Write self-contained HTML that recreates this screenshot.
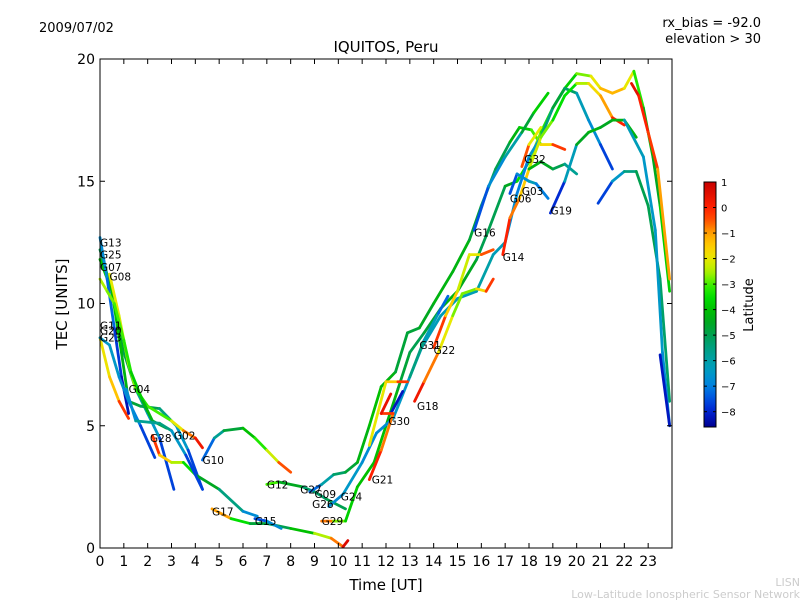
<!DOCTYPE html>
<html><head><meta charset="utf-8"><style>
body{margin:0;background:#fff;font-family:"Liberation Sans","DejaVu Sans",sans-serif}
svg{display:block}
text{font-family:"DejaVu Sans","Liberation Sans",sans-serif}
</style></head><body>
<svg id="c" width="800" height="600" viewBox="0 0 800 600">
<rect width="800" height="600" fill="#fff"/>
<text x="39" y="32" font-size="13">2009/07/02</text>
<text x="761" y="27" font-size="13" text-anchor="end">rx_bias = -92.0</text>
<text x="761" y="43" font-size="13" text-anchor="end">elevation &gt; 30</text>
<text x="386" y="52" font-size="15" text-anchor="middle">IQUITOS, Peru</text>
<text x="386" y="590" font-size="15" text-anchor="middle">Time [UT]</text>
<text transform="translate(67,304) rotate(-90)" font-size="15" text-anchor="middle">TEC [UNITS]</text>
<text x="800" y="586" font-size="11" fill="#ccc" text-anchor="end">LISN</text>
<text x="800" y="598" font-size="11" fill="#ccc" text-anchor="end">Low-Latitude Ionospheric Sensor Network</text>
<g id="marks"></g>
<g id="axes"></g>
</svg>
<script>
const xTicks=[0,1,2,3,4,5,6,7,8,9,10,11,12,13,14,15,16,17,18,19,20,21,22,23];
const yTicks=[0,5,10,15,20];
const cbTicks=[1,0,-1,-2,-3,-4,-5,-6,-7,-8];
const labelNames=["G13","G25","G07","G08","G11","G20","G23","G04","G28","G02","G10","G17","G15","G12","G27","G09","G26","G24","G29","G21","G30","G18","G31","G22","G16","G14","G06","G03","G32","G19"];
const labelT=[0,0,0,0.4,0,0,0,1.2,2.1,3.1,4.3,4.7,6.5,7,8.4,9.0,8.9,10.1,9.3,11.4,12.1,13.3,13.4,14.0,15.7,16.9,17.2,17.7,17.8,18.9];
const labelV=[12.5,12.0,11.5,11.1,9.1,8.9,8.6,6.5,4.5,4.6,3.6,1.5,1.1,2.6,2.4,2.2,1.8,2.1,1.1,2.8,5.2,5.8,8.3,8.1,12.9,11.9,14.3,14.6,15.9,13.8];
const s1=[[0,12.2,-5],[0.5,10.5,-5],[1,8,-4.5],[1.5,6.5,-5.5],[2,5.5,-6],[2.5,4.5,-7],[3.1,2.4,-8.3]];
const s2=[[0,11.8,-4],[0.5,10.5,-4],[0.9,8,-4],[1.2,6,-4.5],[1.7,5.8,-5],[2.5,5.7,-5],[3.2,5,-6],[3.7,4,-7],[4.3,2.4,-8.3]];
const s3=[[0.4,11.2,-2],[0.8,9.5,-2],[1.2,7.5,-2.3],[1.5,6.5,-3],[2,5.8,-3.5],[3,5.2,-2.5],[3.5,4.8,-1.5],[4,4.5,0],[4.3,4.1,0.5]];
const s4=[[0,8.6,-2],[0.4,7,-1.8],[0.8,6,-1],[1.2,5.3,0.5]];
const s5=[[0,12.7,-6.5],[0.3,11,-7],[0.6,9,-7.5],[0.9,7,-8],[1.2,5.5,-8.5]];
const s6=[[0,8.6,-6.5],[0.4,8.3,-6.5],[0.8,7,-6.5],[1.2,6,-7],[1.7,5,-7],[2.3,3.7,-8.3]];
const s7=[[0,11,-2.5],[0.3,10.5,-2.5],[0.6,10,-3],[1,8.5,-3],[1.3,7.2,-3.5],[1.8,6,-4],[2.2,5.2,-4.5],[2.8,4.9,-5]];
const s8=[[2.2,4.6,0.5],[2.5,3.8,-1],[3,3.5,-2],[3.5,3.5,-3],[4,3.0,-4],[5,2.4,-5],[6,1.5,-6],[6.6,1.3,-7.5]];
const s9=[[1.1,6.5,-7],[1.5,5.2,-6.5],[2.5,5.1,-5],[3,4.8,-6],[3.6,3.8,-7],[4.3,2.4,-8.3]];
const s10=[[4.3,3.6,-8],[4.8,4.5,-6.5],[5.2,4.8,-5],[6,4.9,-4.5],[6.5,4.5,-3.5],[7,4,-3],[7.5,3.5,-1.5],[8,3.1,0.5]];
const s11=[[4.7,1.6,0.5],[5.5,1.2,-2.5],[6.3,1.0,-4.5],[7,1.0,-5],[8,0.8,-5],[9,0.6,-3],[9.7,0.4,-2],[10.2,0.05,0.5],[10.4,0.3,0.8]];
const s12=[[6.5,1.2,-8],[7,1.1,-7],[7.6,0.8,-6.5]];
const s13=[[7,2.6,-2],[7.5,2.7,-4],[8.5,2.5,-5],[9,2.3,-5.5],[9.5,2.0,-5],[10.3,1.6,-5]];
const s14=[[8.8,2.3,-8],[9.3,2.6,-6.5],[9.8,3.0,-5.5],[10.3,3.1,-5],[10.8,3.5,-4.5],[11.3,5,-4],[11.8,6.6,-4],[12.4,7.2,-4.5],[12.9,8.8,-5],[13.4,9,-4.5],[14,10,-4.5],[14.8,11.3,-4],[15.5,12.6,-4.5],[16,14,-5],[16.6,15.5,-5.5],[17.2,16.6,-4.5],[17.6,17.2,-4],[18.1,17.1,-3.5],[18.5,16.5,-2.5],[19,16.5,-1],[19.5,16.3,0.5]];
const s15=[[9.3,1.1,0.5],[9.8,1.1,-2],[10.3,1.1,-3.5],[10.8,2.5,-4],[11.5,3.5,-4],[12,5,-4],[12.5,6.5,-4.5],[13,8,-5],[13.6,8.8,-5],[14.3,9.8,-4.5],[15,10.5,-4],[15.8,11.8,-5],[16.3,13,-5],[17,14.8,-5],[17.5,15,-4],[18,15.8,-3],[18.5,17,-2.5],[19,18,-4],[19.5,18.8,-4.5],[20,19.4,-3],[20.6,19.3,-2.5],[21,18.8,-1.5],[21.5,18.6,-1],[22,18.8,-1.5],[22.4,19.5,-2.5],[22.8,18,-4],[23.2,16,-4.5],[23.5,14,-4.5],[23.9,10.5,-3]];
const s16=[[9.6,1.7,-7],[10.2,2.2,-6.5],[11,3.5,-6.5],[11.6,4.7,-7],[12.3,5.3,-6.5],[13,7,-6.5],[13.5,8.2,-6.5],[14.3,9.5,-6],[15,10.2,-6.5],[15.8,10.5,-6],[16.5,12,-6],[17,12.5,-6.5],[17.5,14.5,-7],[18,16,-7],[18.5,16.8,-6],[19,18,-5],[19.5,18.8,-4.5],[20,18.6,-6],[20.5,17.5,-6.5],[21,16.5,-7],[21.5,15.5,-8.3]];
const s17=[[16.9,12,0.5],[17.2,13.5,-0.5],[17.6,14.3,-1],[18,15.5,-2],[18.5,16.8,-2.5],[19,17.5,-3],[19.5,18.5,-4],[20,19,-3],[20.5,19,-2],[21,18.5,-1.5],[21.5,17.6,-0.5],[22,17.3,0.5]];
const s18=[[14,8.2,0.5],[14.5,9.5,-1],[15,10.5,-2],[15.5,12,-2.5],[16,12,-1.5],[16.5,12.2,0.5]];
const s19=[[13,7,-5],[13.6,8.5,-6],[14.2,9.6,-6.5],[14.6,10.3,-8]];
const s20=[[13.2,6.0,0.5],[13.6,6.8,0],[14.2,8,-1.5],[14.8,9.5,-2.5],[15.2,10.4,-3],[15.8,10.6,-2.5],[16.2,10.5,-1],[16.5,11,0.5]];
const s21=[[12.2,5.5,-8],[12.7,6.4,-8.3]];
const s22=[[11.3,4.2,-2],[12,6.8,-2],[12.5,6.8,-1],[12.9,6.8,0.5]];
const s23=[[11.3,2.8,0.5],[11.8,4,-0.5],[12.3,5.5,-1],[11.8,5.5,0.5],[12.2,6.3,0.3]];
const s24=[[15.7,13,-8],[16.3,14.8,-7],[17,16,-6.5],[17.7,17,-5.5],[18.2,17.8,-4],[18.8,18.6,-3.5]];
const s25=[[17.2,14.5,-8],[17.5,15.3,-7],[18,15,-6.5],[18.3,14.9,-6],[18.8,14.3,-8]];
const s26=[[18,15.5,-4],[18.5,15.8,-4.5],[19,15.5,-4.5],[19.5,15.7,-5.5],[20,15.3,-6]];
const s27=[[18.9,13.7,-8.3],[19.5,15,-7.5],[20,16.5,-5],[20.5,17,-4],[21,17.2,-4.5],[21.5,17.5,-4.5],[22,17.5,-4],[22.5,16.8,-4.5]];
const s28=[[20.9,14.1,-8.3],[21.5,15,-7],[22,15.4,-6],[22.5,15.4,-5],[23,14,-5],[23.5,11,-5],[23.9,6,-5.5]];
const s29=[[22,17.5,-6],[22.8,16,-6.5],[23.3,13,-6.5],[23.6,8,-6.5],[23.9,5,-7]];
const s30=[[23.5,7.9,-8],[23.9,5,-8.3]];
const s31=[[22.3,19,0.5],[22.6,18.5,0.5],[23.0,17,-0.5],[23.4,15.5,0],[23.9,11,-2]];
const s32=[[17.7,15.6,0.5],[18,16.5,-1.5],[18.5,17.2,-2.5]];
const series=[s1,s2,s3,s4,s5,s6,s7,s8,s9,s10,s11,s12,s13,s14,s15,s16,s17,s18,s19,s20,s21,s22,s23,s24,s25,s26,s27,s28,s29,s30,s31,s32];

const NS='http://www.w3.org/2000/svg';
const X0=100,X1=672,Y0=548,Y1=59;
const xs=t=>X0+(t/24)*(X1-X0);
const ys=v=>Y0-(v/20)*(Y0-Y1);
const CBT=182,CBB=427,CMAX=1.0,CMIN=-8.6;
const cy=v=>CBT+(CMAX-v)/(CMAX-CMIN)*(CBB-CBT);
const cmapStops=[[1,[200,0,0]],[0,[255,32,0]],[-0.5,[255,80,0]],[-1,[255,160,0]],[-1.5,[255,204,0]],[-2,[232,232,0]],[-2.5,[176,240,0]],[-3,[64,240,0]],[-3.5,[0,224,0]],[-4,[0,192,0]],[-4.5,[0,168,32]],[-5,[0,160,80]],[-5.5,[0,160,128]],[-6,[0,160,168]],[-6.5,[0,152,200]],[-7,[0,128,224]],[-7.5,[0,80,224]],[-8,[0,32,208]],[-8.6,[0,0,144]]];
function jet(v){
 if(v>=cmapStops[0][0])return `rgb(${cmapStops[0][1].join(',')})`;
 for(let i=0;i<cmapStops.length-1;i++){const a=cmapStops[i],b=cmapStops[i+1];
  if(v<=a[0]&&v>=b[0]){const f=(a[0]-v)/(a[0]-b[0]);const c=a[1].map((x,k)=>Math.round(x+(b[1][k]-x)*f));return `rgb(${c.join(',')})`;}}
 return `rgb(${cmapStops[cmapStops.length-1][1].join(',')})`;}
function mk(tag,attrs,parent){const e=document.createElementNS(NS,tag);for(const k in attrs)e.setAttribute(k,attrs[k]);parent.appendChild(e);return e;}
const marks=document.getElementById('marks'),axes=document.getElementById('axes');
series.forEach((s,si)=>{
 const g=mk('g',{},marks);
 
 
 for(let i=0;i<s.length-1;i++){
  const l=mk('line',{x1:xs(s[i][0]),y1:ys(s[i][1]),x2:xs(s[i+1][0]),y2:ys(s[i+1][1]),stroke:jet((s[i][2]+s[i+1][2])/2),'stroke-width':2.8,'stroke-linecap':'round'},g);
  
  
 }
});
labelNames.forEach((n,i)=>{
 const t=mk('text',{x:xs(labelT[i]),y:ys(labelV[i])+4,'font-size':10.5},marks);
 t.textContent=n;
 
 
});
const frame=mk('rect',{x:X0,y:Y1,width:X1-X0,height:Y0-Y1,fill:'none',stroke:'#000','stroke-width':1},axes);


xTicks.forEach(t=>{
 const x=xs(t);
 mk('line',{x1:x,y1:Y0,x2:x,y2:Y0-5,stroke:'#000'},axes);
 mk('line',{x1:x,y1:Y1,x2:x,y2:Y1+5,stroke:'#000'},axes);
 const tx=mk('text',{x:x,y:Y0+18,'font-size':14,'text-anchor':'middle'},axes);
 tx.textContent=t;
 
 
});
yTicks.forEach(v=>{
 const y=ys(v);
 mk('line',{x1:X0,y1:y,x2:X0+5,y2:y,stroke:'#000'},axes);
 mk('line',{x1:X1,y1:y,x2:X1-5,y2:y,stroke:'#000'},axes);
 const tx=mk('text',{x:X0-5,y:y+5,'font-size':14,'text-anchor':'end'},axes);
 tx.textContent=v;
 
 
});
const defs=mk('defs',{},axes);
const gr=mk('linearGradient',{id:'jetg',x1:0,y1:0,x2:0,y2:1},defs);
for(let i=0;i<=40;i++){const v=CMAX-(CMAX-CMIN)*i/40;mk('stop',{offset:(i/40),'stop-color':jet(v)},gr);}
const cb=mk('rect',{x:704,y:CBT,width:12,height:CBB-CBT,fill:'url(#jetg)',stroke:'#000','stroke-width':1},axes);


cbTicks.forEach(v=>{
 const y=cy(v);
 mk('line',{x1:704,y1:y,x2:707,y2:y,stroke:'#000'},axes);
 mk('line',{x1:716,y1:y,x2:713,y2:y,stroke:'#000'},axes);
 const tx=mk('text',{x:721,y:y+4,'font-size':10},axes);
 tx.textContent=v<0?'\u2212'+(-v):v;
 
 
});
const cbt=mk('text',{transform:'translate(753,305) rotate(-90)','font-size':13,'text-anchor':'middle'},axes);
cbt.textContent='Latitude';


</script>
</body></html>
